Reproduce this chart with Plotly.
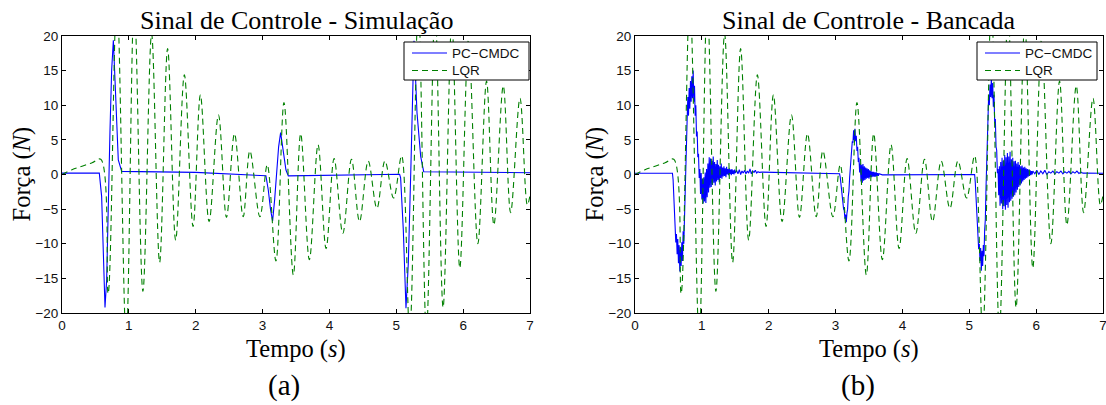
import plotly.graph_objects as go

W, H = 1106, 405

# ---------------- data ----------------
# LQR control force (same in both panels): peaks / troughs
lqr_t = [0.00, 0.15, 0.30, 0.45, 0.58, 0.69, 0.82, 0.96, 1.08, 1.21, 1.34, 1.46, 1.58, 1.70,
         1.83, 1.96, 2.07, 2.20, 2.34, 2.46, 2.58, 2.71, 2.81, 2.96, 3.07, 3.20, 3.32, 3.46,
         3.57, 3.70, 3.83, 3.95, 4.07, 4.20, 4.33, 4.45, 4.58, 4.71, 4.83, 4.96, 5.08, 5.20,
         5.33, 5.45, 5.58, 5.70, 5.83, 5.95, 6.08, 6.22, 6.35, 6.46, 6.60, 6.71, 6.85, 6.96, 7.00]
lqr_v = [0.0, 0.7, 1.2, 1.7, 2.2, -17.2, 26.0, -24.0, 25.0, -16.9, 20.3, -12.7, 18.2, -9.5,
         14.4, -7.5, 11.5, -6.8, 8.6, -6.2, 5.9, -6.1, 3.4, -6.1, 1.4, -12.5, 10.4, -14.5,
         5.9, -12.3, 4.3, -10.7, 2.3, -8.5, 2.2, -6.8, 1.95, -4.9, 1.95, -3.4, 2.7, -23.0,
         25.0, -23.0, 24.0, -19.2, 22.0, -13.5, 19.4, -10.0, 13.5, -7.3, 12.8, -5.5, 11.0, -4.4, -3.0]

# PC-CMDC, simulation
sim_t = [0.0, 0.558, 0.593, 0.618, 0.643, 0.668, 0.690, 0.718, 0.743, 0.768, 0.793, 0.818, 0.842,
         0.893, 2.0, 3.05, 3.085, 3.12, 3.15, 3.18, 3.21, 3.24, 3.27, 3.31, 3.35, 3.385,
         5.05, 5.065, 5.105, 5.145, 5.18, 5.22, 5.245, 5.265, 5.31, 5.365, 5.41, 7.0]
sim_v = [0.2, 0.2, -3.2, -12.8, -19.2, -15.2, -4.6, 6.4, 15.1, 19.4, 13.6, 6.4, 2.1,
         0.45, 0.3, -0.18, -2.2, -5.1, -6.7, -3.7, 0.65, 4.0, 6.05, 3.5, 0.65, -0.2,
         0.03, -0.5, -8.0, -19.3, -12.8, 1.6, 13.6, 19.3, 8.9, 2.6, 0.4, 0.26]

# PC-CMDC, bench (measured, noisy) -- quiet stretches and bursts sampled on a grid
bench_head_t = [0.0, 0.56]
bench_head_v = [0.17, 0.17]
burst1_t0, burst1_dt = 0.57, 0.01
burst1_v = [-0.8, -2.5, -5.0, -7.5, -9.8, -8.6, -11.5, -9.3, -12.8, -10.2, -14.0, -10.5, -13.2,
            -9.8, -12.5, -8.2, -10.0, -5.5, -3.0, 1.0, 5.5, 8.0, 11.2, 8.5, 12.5, 9.5, 13.5,
            10.5, 14.2, 11.0, 15.0, 10.5, 12.8, 8.5, 10.0, 5.5, 6.2, 2.5, 3.0, -0.5, 0.8,
            -2.8, 0.2, -3.6, -0.6, -4.2, -0.4, -3.9, 0.3, -4.1, 0.8, -3.3, 1.6, -2.6, 2.5,
            -1.9, 2.3, -1.8, 2.0, -1.5, 2.6, -1.2, 1.8, -1.6, 1.5, -1.0, 2.1, -0.8, 1.4,
            -1.1, 1.2, -0.5, 1.6, -0.6, 1.0, -0.3, 1.2, -0.2, 0.9, -0.4, 1.1, 0.0, 0.8,
            -0.1, 0.9, 0.1, 0.7, -0.1, 0.8, 0.1, 0.6, 0.0, 0.7, 0.2]
tail1_t0, tail1_dt = 1.52, 0.02
tail1_v = [0.6, 0.1, 0.7, 0.0, 0.5, 0.2, 0.6, 0.1, 0.5, 0.2, 0.8, 0.1, 0.5, 0.3, 0.6, 0.2, 0.4, 0.3]
quiet1_t = [1.90, 3.05]
quiet1_v = [0.35, 0.10]
burst2_t0, burst2_dt = 3.06, 0.01
burst2_v = [0.1, -0.4, -1.5, -2.0, -3.2, -3.6, -5.0, -5.2, -6.4, -5.8, -6.9, -5.6, -5.0, -3.2,
            -2.4, -0.5, 0.8, 2.5, 3.2, 4.8, 4.6, 6.4, 5.0, 6.6, 4.8, 5.6, 3.4, 4.0, 1.8, 2.4,
            0.3, 1.6, -1.0, 1.4, -1.2, 1.5, -0.9, 1.2, -0.8, 1.0, -0.6, 0.9, -0.5, 0.8, -0.6,
            0.6, -0.4, 0.5, -0.4, 0.4, -0.3, 0.4, -0.3, 0.3, -0.3, 0.3, -0.2, 0.2, -0.2, 0.1]
quiet2_t = [3.70, 5.07]
quiet2_v = [-0.05, 0.07]
burst3_t0, burst3_dt = 5.08, 0.01
burst3_v = [0.0, -1.2, -3.5, -5.5, -7.8, -8.5, -10.8, -10.0, -12.5, -10.6, -13.9, -11.0, -13.2,
            -10.2, -11.8, -8.0, -6.5, -2.0, 1.5, 5.5, 8.0, 11.5, 10.0, 13.0, 11.2, 13.9, 11.0,
            13.2, 9.8, 11.5, 7.5, 8.0, 4.0, 3.5, 0.2, 0.8, -3.0, 1.2, -4.5, 1.8, -4.2, 2.4,
            -5.0, 2.0, -4.6, 2.8, -5.1, 2.5, -4.4, 3.1, -4.8, 2.6, -4.0, 3.3, -3.8, 2.2, -3.5,
            2.4, -3.2, 1.9, -3.0, 2.0, -2.6, 1.6, -2.2, 1.8, -1.8, 1.4, -1.6, 1.2, -1.3, 1.3,
            -1.0, 1.0, -0.8, 1.1, -0.6, 0.9, -0.5, 0.8, -0.3, 0.7, -0.2, 0.6, -0.1, 0.5, 0.0, 0.5]
tail3_t0, tail3_dt = 5.98, 0.03
tail3_v = [0.1, 0.6, 0.0, 0.5, 0.1, 0.6, 0.0, 0.4, 0.2, 0.5, 0.1, 0.4, 0.2, 0.5, 0.1, 0.4,
           0.2, 0.45, 0.1, 0.4, 0.2, 0.5, 0.15, 0.35]
quiet3_t = [6.70, 7.00]
quiet3_v = [0.20, 0.17]

x_ticks = [0, 1, 2, 3, 4, 5, 6, 7]
y_ticks = [-20, -15, -10, -5, 0, 5, 10, 15, 20]

titles = ["Sinal de Controle - Simulação", "Sinal de Controle - Bancada"]
panel_tags = ["(a)", "(b)"]
series_names = ["PC\u2212CMDC", "LQR"]


def grid(t0, dt, vals):
    return [round(t0 + dt * i, 4) for i in range(len(vals))]


bench_t = (bench_head_t + grid(burst1_t0, burst1_dt, burst1_v) + grid(tail1_t0, tail1_dt, tail1_v)
           + quiet1_t + grid(burst2_t0, burst2_dt, burst2_v) + quiet2_t
           + grid(burst3_t0, burst3_dt, burst3_v) + grid(tail3_t0, tail3_dt, tail3_v) + quiet3_t)
bench_v = (bench_head_v + burst1_v + tail1_v + quiet1_v + burst2_v + quiet2_v
           + burst3_v + tail3_v + quiet3_v)

# ---------------- layout geometry (pixels) ----------------
plot_l = [62, 635]
plot_r = [530, 1103]
plot_top, plot_bot = 36, 313
tag_cx = [284, 857.5]
leg_box = [(404, 529), (977, 1097)]   # legend box x extents
leg_top, leg_bot = 42, 80
leg_rows = [53, 70.5]

BLUE = "#0000FF"
GREEN = "#008000"
DASH = "6px,4px"
SERIF = "Liberation Serif, Times New Roman, serif"
SANS = "Liberation Sans, Arial, Helvetica, sans-serif"


def px(x):
    return x / W


def py(y):
    return 1 - y / H


fig = go.Figure()

blue_data = [(sim_t, sim_v), (bench_t, bench_v)]
for i in range(2):
    xa = "x" if i == 0 else "x2"
    ya = "y" if i == 0 else "y2"
    fig.add_trace(go.Scatter(x=blue_data[i][0], y=blue_data[i][1], mode="lines",
                             name=series_names[0], xaxis=xa, yaxis=ya, showlegend=False,
                             line=dict(color=BLUE, width=1.1)))
    fig.add_trace(go.Scatter(x=lqr_t, y=lqr_v, mode="lines", name=series_names[1],
                             xaxis=xa, yaxis=ya, showlegend=False,
                             line=dict(color=GREEN, width=1.1, dash=DASH, shape="spline",
                                       smoothing=1.0)))

axis_common = dict(showline=True, linecolor="black", linewidth=1, mirror="ticks",
                   ticks="inside", ticklen=4, tickcolor="black", showgrid=False,
                   zeroline=False, automargin=False, ticklabeloverflow="allow",
                   tickfont=dict(family=SANS, size=13.5, color="#111"))

ydom = [py(plot_bot), py(plot_top)]
fig.update_layout(
    width=W, height=H, autosize=False,
    margin=dict(l=0, r=0, t=0, b=0, autoexpand=False),
    paper_bgcolor="white", plot_bgcolor="white",
    showlegend=False,
    xaxis=dict(domain=[px(plot_l[0]), px(plot_r[0])], range=[0, 7], tickvals=x_ticks,
               anchor="y", **axis_common),
    yaxis=dict(domain=ydom, range=[-20, 20], tickvals=y_ticks, anchor="x", **axis_common),
    xaxis2=dict(domain=[px(plot_l[1]), px(plot_r[1])], range=[0, 7], tickvals=x_ticks,
                anchor="y2", **axis_common),
    yaxis2=dict(domain=ydom, range=[-20, 20], tickvals=y_ticks, anchor="x2", **axis_common),
)

ann = []
shapes = []
for i in range(2):
    cx = px((plot_l[i] + plot_r[i]) / 2)
    ann.append(dict(text=titles[i], x=cx, y=py(20), xref="paper", yref="paper",
                    showarrow=False, xanchor="center", yanchor="middle",
                    font=dict(family=SERIF, size=26, color="black")))
    ann.append(dict(text="Tempo (<i>s</i>)", x=cx, y=py(349), xref="paper", yref="paper",
                    showarrow=False, xanchor="center", yanchor="middle",
                    font=dict(family=SERIF, size=24.5, color="black")))
    ann.append(dict(text=panel_tags[i], x=px(tag_cx[i]), y=py(385), xref="paper", yref="paper",
                    showarrow=False, xanchor="center", yanchor="middle",
                    font=dict(family=SERIF, size=29, color="black")))
    ann.append(dict(text="Força (<i>N</i>)", x=px(plot_l[i] - 41), y=py(174.5),
                    xref="paper", yref="paper", showarrow=False, textangle=-90,
                    xanchor="center", yanchor="middle",
                    font=dict(family=SERIF, size=24.5, color="black")))
    # legend (box, sample lines, labels)
    bx0, bx1 = leg_box[i]
    shapes.append(dict(type="rect", xref="paper", yref="paper", x0=px(bx0), x1=px(bx1),
                       y0=py(leg_bot), y1=py(leg_top), fillcolor="white",
                       line=dict(color="black", width=1), layer="above"))
    for j, (col, dash) in enumerate([(BLUE, "solid"), (GREEN, DASH)]):
        shapes.append(dict(type="line", xref="paper", yref="paper", x0=px(bx0 + 8),
                           x1=px(bx0 + 43), y0=py(leg_rows[j]), y1=py(leg_rows[j]),
                           line=dict(color=col, width=1.1, dash=dash), layer="above"))
        ann.append(dict(text=series_names[j], x=px(bx0 + 46), y=py(leg_rows[j]),
                        xref="paper", yref="paper", showarrow=False, xanchor="left",
                        yanchor="middle", font=dict(family=SANS, size=13.5, color="#111")))

fig.update_layout(annotations=ann, shapes=shapes)

fig.write_html("out.html")
